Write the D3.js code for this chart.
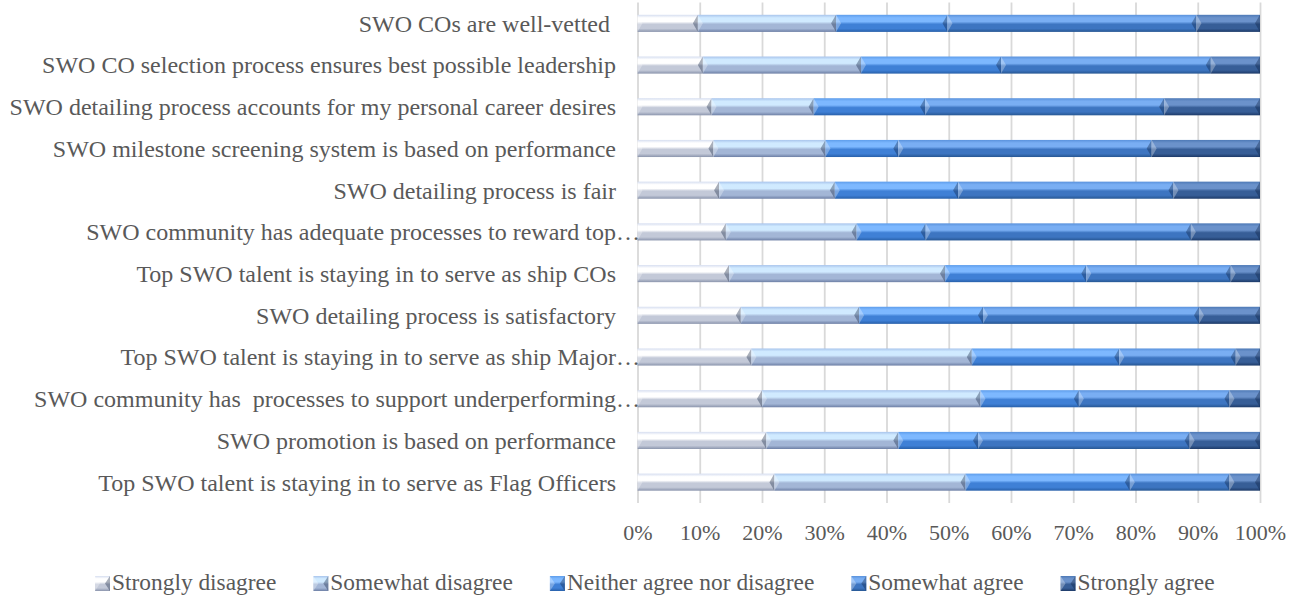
<!DOCTYPE html>
<html><head><meta charset="utf-8">
<script src="https://cdn.jsdelivr.net/npm/d3@7"></script>
<style>
body{margin:0;background:#fff}
svg text{font-family:'Liberation Serif','Times New Roman',serif;fill:#595959}
</style>
</head><body>
<svg id="chart" width="1301" height="596"></svg>
<script>
const categories = [
  "SWO COs are well-vetted ",
  "SWO CO selection process ensures best possible leadership",
  "SWO detailing process accounts for my personal career desires",
  "SWO milestone screening system is based on performance",
  "SWO detailing process is fair",
  "SWO community has adequate processes to reward top\u2026",
  "Top SWO talent is staying in to serve as ship COs",
  "SWO detailing process is satisfactory",
  "Top SWO talent is staying in to serve as ship Major\u2026",
  "SWO community has  processes to support underperforming\u2026",
  "SWO promotion is based on performance",
  "Top SWO talent is staying in to serve as Flag Officers"
];
const seriesNames = ["Strongly disagree","Somewhat disagree","Neither agree nor disagree","Somewhat agree","Strongly agree"];
const stronglyDisagree = [9.7,10.5,11.9,12.2,13.1,14.2,14.7,16.6,18.3,20.0,20.7,22.0];
const somewhatDisagree = [22.2,25.4,16.4,18.0,18.6,21.0,34.7,19.0,35.4,35.1,21.2,30.7];
const neither          = [17.9,22.5,17.9,11.7,19.8,11.1,22.7,19.9,23.7,15.8,12.8,26.4];
const somewhatAgree    = [40.0,33.7,38.4,40.7,34.6,42.6,23.2,34.7,18.7,24.2,34.0,16.0];
const stronglyAgree    = [10.2,7.9,15.4,17.4,13.9,11.1,4.7,9.8,3.9,4.9,11.3,4.9];
const tickValues = [0,0.1,0.2,0.3,0.4,0.5,0.6,0.7,0.8,0.9,1.0];

// gradient palettes [top, highlight, mid, bottom]
const palettes = [
  ["#d6def0","#ffffff","#c3c9d8","#8b95ad"],
  ["#a8c4ec","#d0eaff","#a3b6d6","#6d7fa5"],
  ["#5e9deb","#7db8ff","#3f80d6","#2860aa"],
  ["#5a92dc","#79aef3","#3d75c1","#275793"],
  ["#4d79b6","#6b92cb","#375e97","#1d3a68"]
];

const seriesArrays = [stronglyDisagree, somewhatDisagree, neither, somewhatAgree, stronglyAgree];
const table = categories.map((c,i)=>{
  const o = {cat:c};
  seriesNames.forEach((s,j)=>o[s]=seriesArrays[j][i]);
  return o;
});

const svg = d3.select("#chart");
const defs = svg.append("defs");
palettes.forEach((p,i)=>{
  const g = defs.append("linearGradient").attr("id","g"+i).attr("x1",0).attr("y1",0).attr("x2",0).attr("y2",1);
  [[0,p[0]],[0.18,p[1]],[0.4,p[1]],[0.55,p[2]],[0.8,p[2]],[1,p[3]]].forEach(([o,c])=>
    g.append("stop").attr("offset",o).attr("stop-color",c));
});

const x = d3.scaleLinear().domain([0,1]).range([637.5,1260]);
const y = d3.scaleBand().domain(categories).range([2.5,503]).paddingInner(0.59).paddingOuter(0.295);

// gridlines
const grid = svg.append("g").attr("transform","translate(0,503)")
  .call(d3.axisBottom(x).tickValues(tickValues).tickSize(-500.5).tickFormat(""));
grid.select(".domain").remove();
grid.selectAll("line").attr("stroke","#d9d9d9").attr("stroke-width",1.8);

// tick labels
const ax = svg.append("g").attr("transform","translate(0,503)")
  .call(d3.axisBottom(x).tickValues(tickValues).tickSize(0).tickPadding(0).tickFormat(d3.format(".0%")));
ax.select(".domain").remove();
ax.selectAll("text").attr("dy",null).attr("y",37).attr("font-size","22px")
  .style("font-family","'Liberation Serif','Times New Roman',serif").attr("fill","#595959");

// stacked bars
const stack = d3.stack().keys(seriesNames).offset(d3.stackOffsetExpand);
const stacked = stack(table);
function drawBevel(g, x0, x1, yy, h, i){
  g.append("rect").attr("x",x0).attr("y",yy).attr("width",Math.max(0,x1-x0)).attr("height",h).attr("fill","url(#g"+i+")");
  const b = Math.min(5,(x1-x0)/2);
  g.append("path").attr("d",`M${x0},${yy}L${x0+b},${yy+h/2}L${x0},${yy+h}Z`).attr("fill","#ffffff").attr("fill-opacity",0.3);
  g.append("path").attr("d",`M${x1},${yy}L${x1-b},${yy+h/2}L${x1},${yy+h}Z`).attr("fill","#0a1a3a").attr("fill-opacity",0.35);
}
const bars = svg.append("g");
stacked.forEach((layer,i)=>{
  layer.forEach(d=>{
    drawBevel(bars, x(d[0]), x(d[1]), y(d.data.cat), y.bandwidth(), i);
  });
});

// category labels
svg.append("g").selectAll("text").data(categories).join("text")
  .attr("x",d=>d.endsWith("\u2026")?640:616)
  .attr("y",d=>y(d)+y.bandwidth()/2)
  .attr("dy","0.35em")
  .attr("text-anchor","end")
  .attr("font-size","24px")
  .style("white-space","pre")
  .text(d=>d);

// legend
const lg = svg.append("g");
let lx = 95;
seriesNames.forEach((s,i)=>{
  const gi = lg.append("g");
  drawBevel(gi, lx, lx+15, 576, 15, i);
  const t = gi.append("text").attr("x",lx+17).attr("y",590).attr("font-size","23.4px").text(s);
  lx += 17 + t.node().getComputedTextLength() + 37;
});
</script>
</body></html>
